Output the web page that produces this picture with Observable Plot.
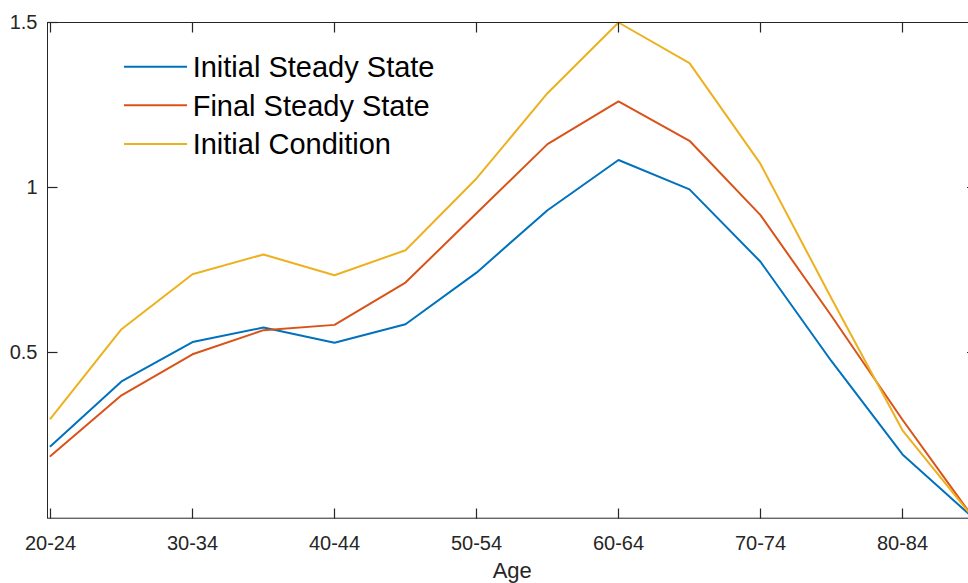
<!DOCTYPE html>
<html><head><meta charset="utf-8">
<script src="https://cdn.jsdelivr.net/npm/d3@7"></script>
<script src="https://cdn.jsdelivr.net/npm/@observablehq/plot@0.6"></script>
<style>html,body{margin:0;padding:0;overflow:hidden;background:#fff;}</style>
</head><body><div id="chart"></div>
<script>
const ageGroups = ["20-24","25-29","30-34","35-39","40-44","45-49","50-54","55-59","60-64","65-69","70-74","75-79","80-84","85-89"];
const initialSteadyState = [0.218,0.414,0.533,0.577,0.531,0.587,0.743,0.932,1.084,0.995,0.776,0.475,0.193,0.0];
const finalSteadyState   = [0.188,0.372,0.496,0.569,0.585,0.713,0.923,1.132,1.261,1.142,0.917,0.612,0.298,0.0];
const initialCondition   = [0.301,0.572,0.738,0.798,0.735,0.811,1.028,1.286,1.500,1.377,1.072,0.665,0.266,0.0];
const seriesNames = ["Initial Steady State","Final Steady State","Initial Condition"];
const seriesColors = ["#0072BD","#D95319","#EDB120"];
const xTickLabels = ["20-24","30-34","40-44","50-54","60-64","70-74","80-84"];
const yTickValues = [0.5,1,1.5];
const xLabel = "Age";

const seriesValues = [initialSteadyState, finalSteadyState, initialCondition];
const rows = seriesNames.flatMap((name, i) => ageGroups.map((age, j) => ({series: name, age, value: seriesValues[i][j]})));

const W = 968, H = 583, mT = 22, mB = 65.3, mL = 47, mR = -8.5;
const tick = 10;
const axisColor = "#262626";
const font = "'Liberation Sans', Arial, Helvetica, sans-serif";

const chart = Plot.plot({
  width: W, height: H,
  marginTop: mT, marginBottom: mB, marginLeft: mL, marginRight: mR,
  style: {fontFamily: font, color: axisColor, background: "white"},
  x: {type: "point", domain: ageGroups, padding: 0},
  y: {domain: [0, 1.5]},
  color: {domain: seriesNames, range: seriesColors},
  marks: [
    Plot.line(rows, {x: "age", y: "value", z: "series", stroke: "series", strokeWidth: 2}),
    Plot.frame({stroke: axisColor, strokeWidth: 1}),
    Plot.axisX({ticks: xTickLabels, tickSize: 0, tickPadding: 18, fontSize: 20, label: null}),
    Plot.axisY({ticks: yTickValues, tickSize: 0, tickPadding: 10, fontSize: 20, label: null, tickFormat: d => String(d)}),
    Plot.text([xLabel], {text: d => d, frameAnchor: "bottom", dy: 60, lineAnchor: "bottom", fontSize: 22, fill: axisColor})
  ]
});
document.getElementById("chart").appendChild(chart);

const svg = d3.select(chart);
const xs = chart.scale("x"), ys = chart.scale("y");
const x0 = mL, x1 = W - mR, yb = H - mB, yt = mT;
const tg = svg.append("g").attr("stroke", axisColor).attr("stroke-width", 1.2).attr("transform", "translate(0.5,0.5)");
xTickLabels.forEach(c => {
  const px = Math.round(xs.apply(c));
  tg.append("line").attr("x1", px).attr("x2", px).attr("y1", Math.round(yb)).attr("y2", Math.round(yb) - tick);
  tg.append("line").attr("x1", px).attr("x2", px).attr("y1", yt).attr("y2", yt + tick);
});
yTickValues.forEach(v => {
  const py = Math.round(ys.apply(v));
  tg.append("line").attr("x1", x0).attr("x2", x0 + tick).attr("y1", py).attr("y2", py);
  tg.append("line").attr("x1", x1).attr("x2", x1 - tick).attr("y1", py).attr("y2", py);
});

const lg = svg.append("g").attr("text-anchor", "start");
seriesNames.forEach((name, i) => {
  const y = 66.7 + i * 38.65;
  lg.append("line").attr("x1", 124).attr("x2", 187).attr("y1", y).attr("y2", y)
    .attr("stroke", seriesColors[i]).attr("stroke-width", 2);
  lg.append("text").attr("x", 192.7).attr("y", y).attr("dy", "0.35em")
    .attr("text-anchor", "start")
    .attr("font-size", 29).attr("font-family", font).attr("fill", "#000").text(name);
});
</script>
</body></html>
